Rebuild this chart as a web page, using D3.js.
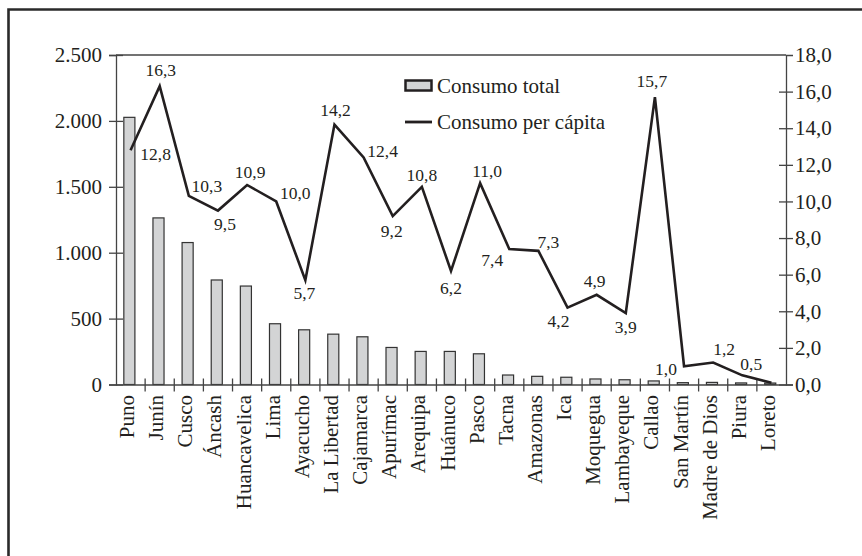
<!DOCTYPE html>
<html>
<head>
<meta charset="utf-8">
<script src="https://cdn.jsdelivr.net/npm/d3@7"></script>
<style>
  html, body { margin: 0; padding: 0; background: #fff; }
  svg { display: block; }
  text { font-family: "Liberation Serif", "Times New Roman", serif; fill: #231f20; }
</style>
</head>
<body>
<svg id="chart" width="862" height="556"></svg>
<script>
// ---- data ----
const categories = ["Puno", "Junín", "Cusco", "Áncash", "Huancavelica", "Lima", "Ayacucho",
  "La Libertad", "Cajamarca", "Apurímac", "Arequipa", "Huánuco", "Pasco", "Tacna", "Amazonas",
  "Ica", "Moquegua", "Lambayeque", "Callao", "San Martín", "Madre de Dios", "Piura", "Loreto"];
const consumoTotal = [2027, 1264, 1077, 793, 747, 461, 415, 382, 362, 281, 251, 251, 233,
  72, 62, 55, 42, 36, 27, 14, 16, 12, 11];
const consumoPerCapita = [12.8, 16.3, 10.3, 9.5, 10.9, 10.0, 5.7, 14.2, 12.4, 9.2, 10.8, 6.2,
  11.0, 7.4, 7.3, 4.2, 4.9, 3.9, 15.7, 1.0, 1.2, 0.5, 0.1];
const showLabel = [true, true, true, true, true, true, true, true, true, true, true, true,
  true, true, true, true, true, true, true, true, true, true, false];
const leftTicks = [0, 500, 1000, 1500, 2000, 2500];
const rightTicks = [0, 2, 4, 6, 8, 10, 12, 14, 16, 18];
const seriesNames = ["Consumo total", "Consumo per cápita"];

// ---- drawing ----
const loc = d3.formatLocale({ decimal: ",", thousands: ".", grouping: [3], currency: ["", ""] });
const fmtL = loc.format(",.0f");
const fmtR = loc.format(".1f");

const svg = d3.select("#chart");
const ink = "#231f20";
const axisCol = "#444";
const plot = { left: 116, right: 786, top: 55, bottom: 384.5 };

// outer frame (top and left visible)
svg.append("path")
  .attr("d", `M8.5,${556 + 5} L8.5,9.5 L${862 + 5},9.5`)
  .attr("fill", "none").attr("stroke", "#2a2a2a").attr("stroke-width", 2.6);

const x = d3.scaleBand().domain(categories).range([plot.left, plot.right]).padding(0);
const yL = d3.scaleLinear().domain([0, 2500]).range([plot.bottom, plot.top]);
const yR = d3.scaleLinear().domain([0, 18]).range([plot.bottom, plot.top]);

// bars
const bw = x.bandwidth() * 0.38;
svg.append("g").selectAll("rect").data(consumoTotal).join("rect")
  .attr("x", (d, i) => x(categories[i]) + x.bandwidth() / 2 - bw / 2 - 1.2)
  .attr("y", d => yL(d))
  .attr("width", bw)
  .attr("height", d => yL(0) - yL(d))
  .attr("fill", "#d3d4d5")
  .attr("stroke", "#333")
  .attr("stroke-width", 1.2);

// plot top border
svg.append("line")
  .attr("x1", plot.left).attr("x2", plot.right)
  .attr("y1", plot.top).attr("y2", plot.top)
  .attr("stroke", axisCol).attr("stroke-width", 1.3);

// left axis
const gL = svg.append("g").attr("transform", `translate(${plot.left},0)`)
  .call(d3.axisLeft(yL).tickValues(leftTicks).tickFormat(fmtL).tickSize(7).tickPadding(7));
gL.selectAll(".tick line").attr("x1", 7).attr("x2", -7);
gL.selectAll(".tick text").attr("font-size", 21).attr("font-family", "Liberation Serif, serif").attr("fill", ink);

// right axis
const gR = svg.append("g").attr("transform", `translate(${plot.right},0)`)
  .call(d3.axisRight(yR).tickValues(rightTicks).tickFormat(fmtR).tickSize(7).tickPadding(2));
gR.selectAll(".tick line").attr("x1", -7).attr("x2", 7)
  .attr("display", d => d === 18 ? "none" : null);
gR.selectAll(".tick text").attr("font-size", 21).attr("font-family", "Liberation Serif, serif").attr("fill", ink);

// bottom axis (labels)
const gB = svg.append("g").attr("transform", `translate(0,${plot.bottom})`)
  .call(d3.axisBottom(x).tickSize(0).tickPadding(0));
gB.selectAll(".tick text")
  .attr("font-size", 21).attr("font-family", "Liberation Serif, serif").attr("fill", ink)
  .attr("text-anchor", "end")
  .attr("transform", "rotate(-90)")
  .attr("x", -10.5).attr("y", 0).attr("dy", 3.5);
// category boundary ticks crossing the axis
const bounds = categories.slice(1).map(c => x(c));
gB.selectAll("line.bt").data(bounds).join("line").attr("class", "bt")
  .attr("x1", d => d).attr("x2", d => d).attr("y1", -6).attr("y2", 7)
  .attr("stroke", axisCol).attr("stroke-width", 1.3);

[gL, gR, gB].forEach(g => {
  g.select(".domain").attr("stroke", axisCol).attr("stroke-width", 1.3);
  g.selectAll(".tick line").attr("stroke", axisCol).attr("stroke-width", 1.3);
});

// line
const cx = i => x(categories[i]) + x.bandwidth() / 2;
const line = d3.line().x((d, i) => cx(i)).y(d => yR(d));
svg.append("path").datum(consumoPerCapita)
  .attr("d", line).attr("fill", "none")
  .attr("stroke", ink).attr("stroke-width", 2.6).attr("stroke-linejoin", "miter");

// data label offsets (relative to the point)
const labelOffsets = [[25, 3.5], [1, -16], [18, -10], [7, 13], [3, -13], [19, -8], [-1, 13],
  [1, -15], [19, -7], [-1, 15], [0, -12], [0, 17], [7, -12], [-17, 11], [10, -8.5], [-9, 13],
  [-2, -14], [0, 14], [-3, -16.5], [-18, 3], [11, -14], [9, -11], [0, 0]];
svg.append("g").selectAll("text").data(consumoPerCapita).join("text")
  .filter((d, i) => showLabel[i])
  .attr("x", (d, i) => cx(i) + labelOffsets[i][0])
  .attr("y", (d, i) => yR(d) + labelOffsets[i][1])
  .attr("text-anchor", "middle")
  .attr("dominant-baseline", "central")
  .attr("font-size", 17.5)
  .text(d => fmtR(d));

// legend
const lg = svg.append("g");
lg.append("rect").attr("x", 405.5).attr("y", 80.5).attr("width", 26).attr("height", 10)
  .attr("fill", "#d3d4d5").attr("stroke", ink).attr("stroke-width", 2.5);
lg.append("text").attr("x", 437).attr("y", 86).attr("dominant-baseline", "central")
  .attr("font-size", 21).text(seriesNames[0]);
lg.append("line").attr("x1", 405).attr("x2", 432).attr("y1", 122).attr("y2", 122)
  .attr("stroke", ink).attr("stroke-width", 2.8);
lg.append("text").attr("x", 437).attr("y", 122).attr("dominant-baseline", "central")
  .attr("font-size", 21).text(seriesNames[1]);
</script>
</body>
</html>
